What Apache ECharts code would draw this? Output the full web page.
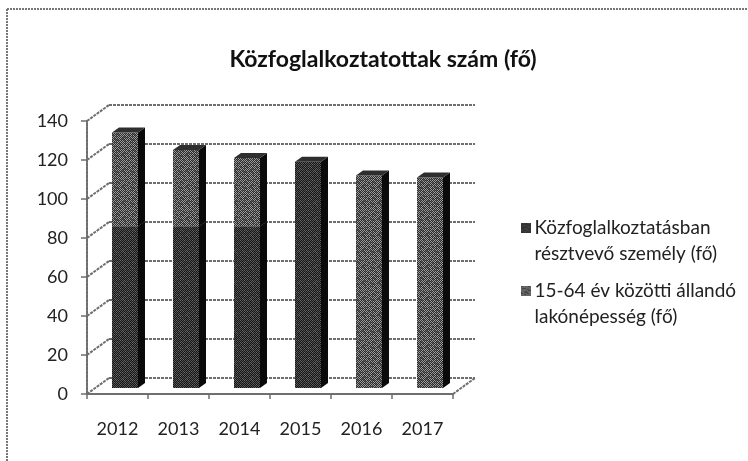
<!DOCTYPE html>
<html><head><meta charset="utf-8">
<style>html,body{margin:0;padding:0;background:#fff}#c{width:748px;height:461px}</style>
<script src="https://cdn.jsdelivr.net/npm/echarts@6/dist/echarts.min.js"></script>
</head><body><div id="c"></div>
<script>
const years = ['2012','2013','2014','2015','2016','2017'];
const workers = [83,83,83,116,0,0];
const residents = [48,39,35,0,109,108];
const yTicks = [0,20,40,60,80,100,120,140];
const titleText = 'Közfoglalkoztatottak szám (fő)';
const nameA = 'Közfoglalkoztatásban\nrésztvevő személy (fő)';
const nameB = '15-64 év közötti állandó\nlakónépesség (fő)';

function dither(a, b, c) {
  const cv = document.createElement('canvas'); cv.width = 16; cv.height = 16;
  const g = cv.getContext('2d');
  for (let y = 0; y < 16; y++) for (let x = 0; x < 16; x++) {
    const h = (x * 7 + y * 13 + (x * y) % 5) % 11;
    g.fillStyle = (x + y) % 2 ? a : (h < 3 ? c : b);
    g.fillRect(x, y, 1, 1);
  }
  return {image: cv, repeat: 'repeat'};
}
const darkFill = dither('#161616', '#505050', '#6a6a6a');
const lightFill = dither('#2c2c2c', '#9c9c9c', '#5e5e5e');
const lineC = '#6e6e6e';

const DX = 22, DY = 16;
function wall(params, api) {
  const v = api.value(0), bw = api.size([1, 0])[0];
  const p = api.coord([0, v]); const x0 = p[0] - bw / 2, y = p[1];
  const xr = x0 + bw * years.length;
  const st = {stroke: lineC, lineWidth: 2, lineDash: [3, 1]};
  const ch = [{type: 'line', shape: {x1: x0, y1: y, x2: x0 + DX, y2: y - DY}, style: st}];
  ch.push({type: 'line', shape: {x1: x0 + DX, y1: y - DY, x2: xr + DX, y2: y - DY}, style: st});
  if (v === 0) ch.push({type: 'line', shape: {x1: xr, y1: y, x2: xr + DX, y2: y - DY}, style: st});
  return {type: 'group', children: ch};
}
function bar(fill) {
  return function (params, api) {
    const i = api.value(0), lo = api.value(1), hi = api.value(2);
    if (hi <= lo) return null;
    const bw = api.size([1, 0])[0];
    const c0 = api.coord([i, lo]), c1 = api.coord([i, hi]);
    const x0 = c0[0] - bw / 2 + 25, x1 = x0 + 26, sd = 7, td = 5, sh = 6;
    const yb = c0[1] - sh, yt = c1[1] - sh;
    return {type: 'group', children: [
      {type: 'rect', shape: {x: x0, y: yt, width: x1 - x0, height: yb - yt}, style: {fill: fill}},
      {type: 'polygon', shape: {points: [[x1, yb], [x1 + sd, yb - td], [x1 + sd, yt - td], [x1, yt]]}, style: {fill: '#0a0a0a'}},
      {type: 'polygon', shape: {points: [[x0, yt], [x0 + sd, yt - td], [x1 + sd, yt - td], [x1, yt]]}, style: {fill: '#2e2e2e'}}
    ]};
  };
}
const tops = years.map((_, i) => workers[i] + residents[i]);
const chart = echarts.init(document.getElementById('c'), null, {renderer: 'canvas'});
const icon = 'path://M0 0H10V10H0Z M5 36h.01v.01h-.01z';
chart.setOption({
  animation: false,
  backgroundColor: '#fff',
  textStyle: {fontFamily: 'Lato'},
  title: {text: titleText, left: 378, top: 43, textAlign: 'center',
    textStyle: {fontFamily: 'Lato', fontWeight: 'bold', fontSize: 23, color: '#111'}},
  grid: {left: 87, right: 295, top: 121, bottom: 67},
  legend: {orient: 'vertical', left: 516, top: 210, itemWidth: 11, itemHeight: 36, itemGap: 11,
    icon: icon, data: [nameA, nameB],
    textStyle: {fontFamily: 'Lato', fontSize: 19, lineHeight: 26, color: '#222', padding: [0, 0, 0, -2]}},
  xAxis: {type: 'category', data: years, boundaryGap: true,
    axisLine: {lineStyle: {color: lineC, width: 2, type: [3, 1]}},
    axisTick: {show: true, length: 5, alignWithLabel: false, lineStyle: {color: lineC, width: 1.5}},
    axisLabel: {fontSize: 18, color: '#222', margin: 26, interval: 0}},
  yAxis: {type: 'value', min: 0, max: 140, interval: 20,
    axisLine: {show: true, lineStyle: {color: lineC, width: 2, type: [3, 1]}},
    axisTick: {show: true, length: 6, lineStyle: {color: lineC, width: 1.5}},
    splitLine: {show: false},
    axisLabel: {fontSize: 18, color: '#222', margin: 19}},
  graphic: [
    {type: 'line', silent: true, shape: {x1: 7, y1: 9, x2: 7, y2: 461}, style: {stroke: '#777', lineWidth: 2, lineDash: [2, 1]}},
    {type: 'line', silent: true, shape: {x1: 7, y1: 9, x2: 748, y2: 9}, style: {stroke: '#777', lineWidth: 2, lineDash: [2, 1]}}
  ],
  series: [
    {type: 'custom', name: 'wall', silent: true, z: 1, renderItem: wall, data: yTicks.map(v => [v]), encode: {y: 0}},
    {type: 'custom', name: nameA, z: 3, renderItem: bar(darkFill), itemStyle: {color: darkFill},
      data: years.map((_, i) => [i, 0, workers[i]]), encode: {x: 0, y: [1, 2]}},
    {type: 'custom', name: nameB, z: 3, renderItem: bar(lightFill), itemStyle: {color: lightFill},
      data: years.map((_, i) => [i, workers[i], tops[i]]), encode: {x: 0, y: [1, 2]}}
  ]
});
</script></body></html>
